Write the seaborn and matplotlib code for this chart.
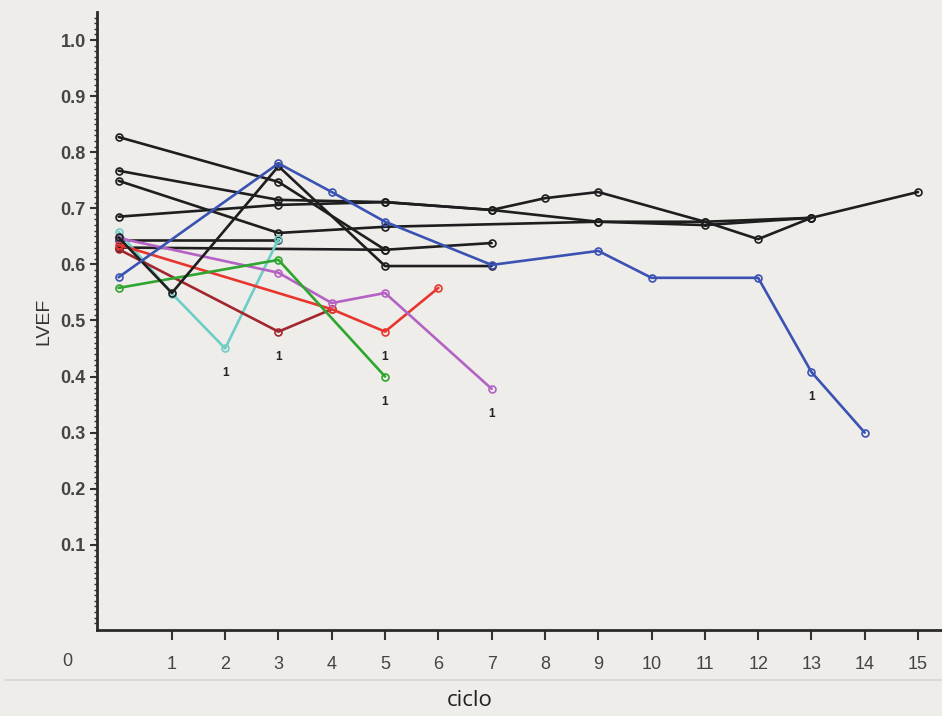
import numpy as np
import pandas as pd
import matplotlib
matplotlib.use("Agg")
import matplotlib.pyplot as plt
import seaborn as sns

# ---- data (ciclo, LVEF) ----
k1_x = [0, 3, 5, 7]
k1_y = [0.827, 0.747, 0.626, 0.638]
k2_x = [0, 3, 5, 7, 8, 9, 11, 12, 13, 15]
k2_y = [0.767, 0.715, 0.711, 0.697, 0.718, 0.729, 0.676, 0.645, 0.683, 0.729]
k3_x = [0, 3, 5, 9, 11, 13]
k3_y = [0.749, 0.656, 0.667, 0.676, 0.670, 0.683]
k4_x = [0, 3, 5, 7, 9, 11, 13]
k4_y = [0.685, 0.706, 0.711, 0.697, 0.676, 0.676, 0.683]
k5_x = [0, 1, 3, 5, 7]
k5_y = [0.648, 0.549, 0.775, 0.597, 0.597]
k6_x = [0, 3]
k6_y = [0.643, 0.643]
k7_x = [0, 5]
k7_y = [0.630, 0.626]

blue_x = [0, 3, 4, 5, 7, 9, 10, 12, 13, 14]
blue_y = [0.577, 0.780, 0.729, 0.676, 0.599, 0.624, 0.576, 0.576, 0.408, 0.300]
cyan_x = [0, 1, 2, 3]
cyan_y = [0.658, 0.548, 0.450, 0.645]
green_x = [0, 3, 5]
green_y = [0.558, 0.608, 0.400]
purple_x = [0, 3, 4, 5, 7]
purple_y = [0.647, 0.585, 0.531, 0.549, 0.378]
red_x = [0, 4, 5, 6]
red_y = [0.635, 0.520, 0.480, 0.558]
darkred_x = [0, 3, 4]
darkred_y = [0.627, 0.480, 0.520]

# event marks ("1") below these points
event_x = [2, 3, 5, 5, 7, 13]
event_y = [0.450, 0.480, 0.480, 0.400, 0.378, 0.408]

x_ticks = list(range(1, 16))
y_ticks = [0.1, 0.2, 0.3, 0.4, 0.5, 0.6, 0.7, 0.8, 0.9, 1.0]

BLACK = "#1e1e1e"
series = [
    (k1_x, k1_y, BLACK), (k2_x, k2_y, BLACK), (k3_x, k3_y, BLACK),
    (k4_x, k4_y, BLACK), (k6_x, k6_y, BLACK), (k7_x, k7_y, BLACK),
    (cyan_x, cyan_y, "#6fcdc8"), (darkred_x, darkred_y, "#a3262e"),
    (red_x, red_y, "#e8362f"), (purple_x, purple_y, "#b462c4"),
    (green_x, green_y, "#2ea52e"), (k5_x, k5_y, BLACK),
    (blue_x, blue_y, "#3a52b2"),
]

BG = "#efedea"
sns.set_theme(style="ticks")
plt.rcParams["font.family"] = ["Liberation Sans", "DejaVu Sans"]

fig = plt.figure(figsize=(9.42, 7.16), dpi=100, facecolor=BG)
ax = fig.add_axes([97 / 942, 1 - 630 / 716, 1 - 97 / 942, (630 - 12) / 716])
ax.set_facecolor(BG)

for xs, ys, c in series:
    df = pd.DataFrame({"ciclo": xs, "LVEF": ys})
    sns.lineplot(data=df, x="ciclo", y="LVEF", ax=ax, color=c, lw=1.9,
                 marker="o", markersize=5, markerfacecolor="none",
                 markeredgecolor=c, markeredgewidth=1.2,
                 estimator=None, sort=False, legend=False)

for ex, ey in zip(event_x, event_y):
    ax.annotate("1", (ex, ey), xytext=(0, -18), textcoords="offset points",
                ha="center", va="center", fontsize=8.5, fontweight="bold",
                color="#222222")

ax.set_xlim(-0.405, 15.45)
ax.set_ylim(-0.052, 1.05)

ax.set_xticks(x_ticks)
ax.set_xticklabels([str(v) for v in x_ticks])
ax.set_yticks(y_ticks)
ax.set_yticklabels([f"{v:.1f}" for v in y_ticks])
ax.set_yticks(np.arange(-0.04, 1.045, 0.01), minor=True)

ax.tick_params(axis="x", direction="out", length=7, width=1.5, color="#333333",
               labelsize=13, labelcolor="#444444", pad=12)
ax.tick_params(axis="y", which="major", direction="out", length=5, width=1.5,
               color="#333333", labelsize=13, labelcolor="#444444", pad=3)
ax.tick_params(axis="y", which="minor", direction="out", length=2.5, width=1.0,
               color="#333333")
for lab in ax.get_yticklabels():
    lab.set_fontweight("bold")

for s in ["top", "right"]:
    ax.spines[s].set_visible(False)
for s in ["left", "bottom"]:
    ax.spines[s].set_linewidth(2.0)
    ax.spines[s].set_color("#2a2a2a")

ax.set_xlabel("")
ax.set_ylabel("LVEF", fontsize=14, color="#333333", labelpad=6)

# origin label and footer
fig.text(67 / 942, 1 - 661 / 716, "0", ha="center", va="center",
         fontsize=13, color="#444444")
fig.add_artist(plt.Line2D([5 / 942, 1.0], [1 - 680 / 716, 1 - 680 / 716],
                          color="#d6d6d6", lw=1.2))
fig.text(470 / 942, 1 - 701 / 716, "ciclo", ha="center", va="center",
         fontsize=16, color="#222222", family=["Open Sans", "DejaVu Sans"])

fig.savefig("out.png", dpi=100, facecolor=BG)
